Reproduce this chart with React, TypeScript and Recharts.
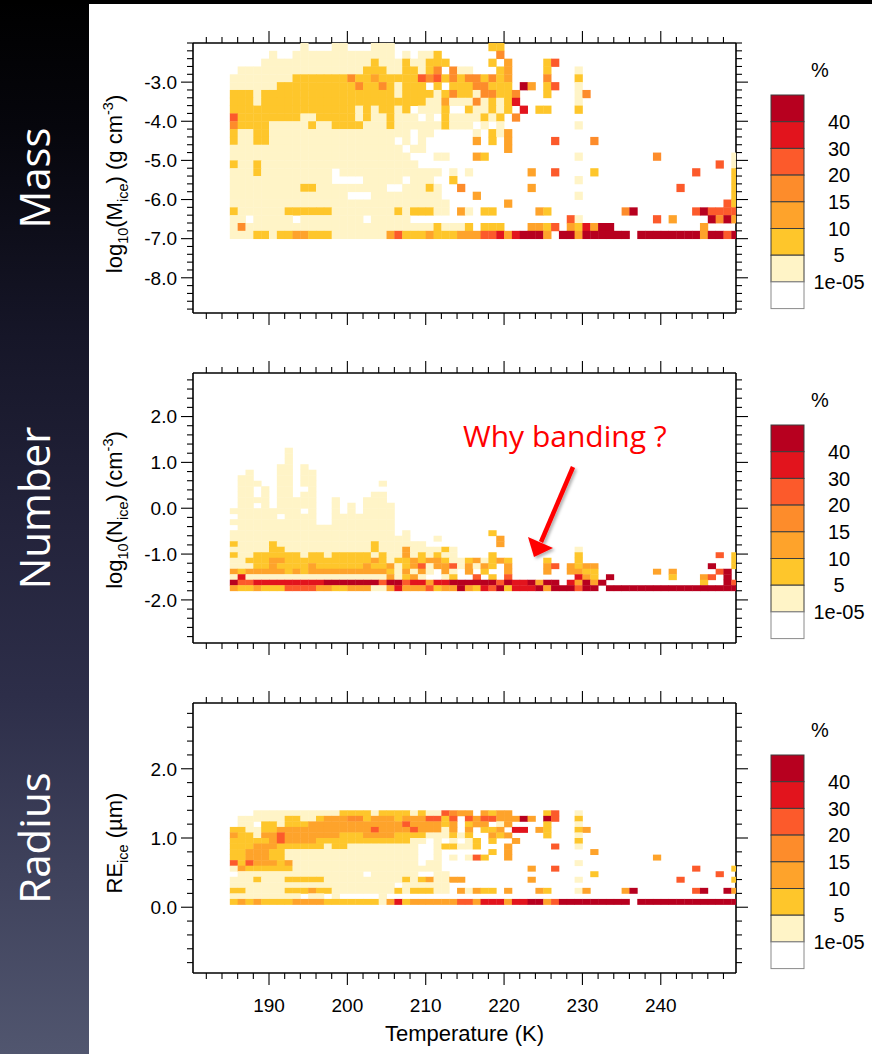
import React from 'react';
import { ScatterChart, Scatter, XAxis, YAxis } from 'recharts';

const AXIS_FONT = '"Liberation Sans", Arial, Helvetica, sans-serif';
const SLIDE_FONT = '"Open Sans", "Noto Sans", sans-serif';

// shading levels: 0 = below 1e-05 (white) ... 7 = above 40 %
const LEVEL_COLORS = ['#ffffff', '#fff4c7', '#fec62b', '#fea32b', '#fd8c2b', '#fc5a2b', '#e2141d', '#b7001f'];
const LEVEL_LABELS = ['1e-05', '5', '10', '15', '20', '30', '40'];

// temperature bins are 1 K wide, the first one starts at 185 K
const T_FIRST_BIN = 185;
const T_DOMAIN: [number, number] = [180.3, 249.6];
const T_MAJOR = [190, 200, 210, 220, 230, 240];

// each string is one row of bins (top row first), one digit per temperature bin
const MASS_ROWS = [
  '00000 00001 00011 00011 10000 00000 00022 00000 00000 00000 00000 00000 00000',
  '00000 10011 11111 11111 10101 12000 00004 00000 00000 00000 00000 00000 00000',
  '00001 11111 11111 11121 11211 22200 00020 30000 25000 00000 00000 00000 00000',
  '01111 11111 11111 11222 11221 24041 10002 30000 20001 00000 00000 00000 00000',
  '11111 11122 22222 42232 22225 45242 44242 30000 40002 00000 00000 00000 00000',
  '11111 12222 22222 24224 21222 02022 24422 20730 25001 00000 00000 00000 00000',
  '22212 22222 22222 22222 21222 21242 21442 24000 20001 40000 00000 00000 00000',
  '22212 22222 22222 22222 22222 11311 14121 26000 00001 00000 00000 00000 00000',
  '22222 22222 22222 21212 21201 11200 21121 20602 20002 00000 00000 00000 00000',
  '52222 22221 12222 21211 21110 10211 11212 04000 00000 00000 00000 00000 00000',
  '42222 11111 21122 22111 21111 11211 10101 00000 00001 00000 00000 00000 00000',
  '21122 11111 11111 11111 11101 10000 01021 30000 00000 00000 00000 00000 00000',
  '21122 11111 11111 11111 10101 00000 03020 30000 05000 04000 00000 00000 00000',
  '11111 11111 11111 11111 11011 00000 00000 30000 00000 00000 00000 00000 00000',
  '11111 11111 11111 11111 11100 01100 03200 00000 00001 00000 00004 00000 00001',
  '21121 11111 11111 11111 11110 00000 00000 00000 00000 00000 00000 00000 00501',
  '11121 11111 11101 11111 11111 11010 10000 00030 05000 02000 00000 00005 00002',
  '11111 11111 11100 00111 11011 10020 00000 00000 00001 00000 00000 00000 00002',
  '11111 11112 21111 11111 00111 21004 00000 00030 00000 00000 00000 00500 00002',
  '11111 11111 11111 00011 11111 11000 03000 00000 00001 00000 00000 00000 00002',
  '11111 11111 11111 11111 11111 11100 00000 30000 00000 00000 00000 00000 00052',
  '21111 11222 22211 11111 12122 21103 10220 00003 20000 00000 47000 00005 75555',
  '11011 11101 11111 11011 11100 00000 00000 00000 00051 00000 00005 03000 07473',
  '14111 11111 11111 11111 11111 12111 20222 00033 25032 63770 00000 00000 30000',
  '11122 12233 22211 11111 35222 32223 33556 36777 30773 77777 70777 77777 37757',
];

const NUMBER_ROWS = [
  '00000 00100 00000 00000 00000 00000 00000 00000 00000 00000 00000 00000 00000',
  '00000 00100 00000 00000 00000 00000 00000 00000 00000 00000 00000 00000 00000',
  '00000 00100 00000 00000 00000 00000 00000 00000 00000 00000 00000 00000 00000',
  '00000 01101 00000 00000 00000 00000 00000 00000 00000 00000 00000 00000 00000',
  '00100 01101 10000 00000 00000 00000 00000 00000 00000 00000 00000 00000 00000',
  '01100 01101 10000 00000 00000 00000 00000 00000 00000 00000 00000 00000 00000',
  '01110 01101 10000 00001 00000 00000 00000 00000 00000 00000 00000 00000 00000',
  '01101 01100 10000 00000 00000 00000 00000 00000 00000 00000 00000 00000 00000',
  '01101 01101 10000 00011 00000 00000 00000 00000 00000 00000 00000 00000 00000',
  '01111 01111 10010 00111 00000 00000 00000 00000 00000 00000 00000 00000 00000',
  '01101 01111 10010 10111 10000 00000 00000 00000 00000 00000 00000 00000 00000',
  '11111 11110 10010 10111 10000 00000 00000 00000 00000 00000 00000 00000 00000',
  '01111 10111 10011 11111 10000 00000 00000 00000 00000 00000 00000 00000 00000',
  '11111 11111 10011 11111 10000 00000 00000 00000 00000 00000 00000 00000 00000',
  '01111 11111 11111 11111 10000 00000 00000 00000 00000 00000 00000 00000 00000',
  '11111 11111 11111 11111 10100 00000 00020 00000 00000 00000 00000 00000 00000',
  '11111 11111 11111 11111 11100 01000 00003 00000 00000 00000 00000 00000 00000',
  '21111 21111 11111 11121 11111 00000 00003 00000 00000 00000 00000 00000 00000',
  '11111 22111 11111 11121 11311 11210 00000 00000 00001 00000 00000 00000 00000',
  '21122 22221 22122 22212 11312 12110 00020 00000 00002 00000 00000 00000 00502',
  '11222 33222 22222 22232 12232 33211 23123 20000 20002 00000 00000 00000 00002',
  '11122 32222 32222 22322 31235 13351 31320 30000 35032 33000 00000 00000 07002',
  '32333 33232 33333 33333 21313 10310 30200 30000 30033 22000 00003 03000 00570',
  '16111 11111 11111 11111 31231 00120 05020 50000 00006 32070 00000 02000 35070',
  '75566 66666 66777 77775 77566 36677 77775 76673 77063 73700 00000 00000 20075',
  '32232 22555 53322 33311 36333 52337 32657 26667 37775 77077 77777 77777 77777',
];

const RADIUS_ROWS = [
  '00011 11111 11112 22212 22212 11543 30323 30000 25001 00000 00000 00000 00000',
  '01111 11221 12333 44233 32333 55250 53553 33730 75002 00000 00000 00000 00000',
  '01102 21222 33333 33333 33533 33230 23301 30000 20001 00000 00000 00000 00000',
  '22112 23333 33333 33353 33353 33130 30223 06603 20002 30000 00000 00000 00000',
  '32213 35333 33332 22333 32222 11121 20032 30000 20001 00000 00000 00000 00000',
  '22222 35333 32222 22222 22211 01010 12020 03000 00002 00000 00000 00000 00000',
  '22233 32222 22122 11111 11110 01221 12000 30000 05001 00000 00000 00000 00000',
  '22333 22111 11111 11111 11110 01000 00020 30000 00000 03000 00000 00000 00000',
  '22333 22111 11111 11111 11110 01010 15200 30000 00000 00000 00003 00000 00000',
  '52533 32311 11111 11111 11110 11000 00000 00000 00001 00000 00000 00000 00000',
  '13222 22211 11111 11111 11111 11000 00000 00030 05000 00000 00000 00005 00002',
  '01111 11111 11111 11011 11110 01100 00000 00000 00000 02000 00000 00000 00500',
  '11121 11222 22111 11111 11212 31133 00000 00030 00001 00000 00000 00500 00002',
  '11111 11111 11111 11111 10111 11100 00000 00000 00000 00000 00000 00000 00000',
  '22111 11222 32211 11111 12122 21103 13220 30003 20001 30000 37000 00005 70073',
  '11111 11110 11010 00001 00000 00000 00000 00000 00000 00000 00000 00000 00000',
  '23232 22233 33222 22221 36233 33335 53666 36677 35777 77777 70777 77777 77777',
];

// lower edge of the bottom row and row height, in y-axis units
const MASS_ROW_BASE = -7.0;
const MASS_ROW_STEP = 0.2;
const NUMBER_ROW_BASE = -1.8;
const NUMBER_ROW_STEP = 0.12;
const RADIUS_ROW_BASE = 0.04;
const RADIUS_ROW_STEP = 0.08;

const MASS_Y_DOMAIN: [number, number] = [-8.9, -2.0];
const NUMBER_Y_DOMAIN: [number, number] = [-2.94, 2.95];
const RADIUS_Y_DOMAIN: [number, number] = [-0.95, 2.95];

const MASS_Y_MAJOR = [-8, -7, -6, -5, -4, -3];
const NUMBER_Y_MAJOR = [-2, -1, 0, 1, 2];
const RADIUS_Y_MAJOR = [0, 1, 2];

// page layout
const PAGE_W = 872;
const PAGE_H = 1054;
const SIDEBAR_W = 89;
const PLOT_LEFT = 193;
const PLOT_RIGHT = 736;
const PLOT_H = 270;
const TOP_GUTTER = 30;
const BOTTOM_GUTTER = 70;

type TitlePart = { t: string; sub?: boolean; sup?: boolean };

const PANELS = [
  {
    name: 'Mass',
    top: 43,
    rows: MASS_ROWS,
    base: MASS_ROW_BASE,
    step: MASS_ROW_STEP,
    domain: MASS_Y_DOMAIN,
    major: MASS_Y_MAJOR,
    titleY: 184,
    title: [
      { t: 'log' }, { t: '10', sub: true }, { t: '(M' }, { t: 'ice', sub: true },
      { t: ') (g cm' }, { t: '-3', sup: true }, { t: ')' },
    ] as TitlePart[],
  },
  {
    name: 'Number',
    top: 373,
    rows: NUMBER_ROWS,
    base: NUMBER_ROW_BASE,
    step: NUMBER_ROW_STEP,
    domain: NUMBER_Y_DOMAIN,
    major: NUMBER_Y_MAJOR,
    titleY: 510,
    title: [
      { t: 'log' }, { t: '10', sub: true }, { t: '(N' }, { t: 'ice', sub: true },
      { t: ') (cm' }, { t: '-3', sup: true }, { t: ')' },
    ] as TitlePart[],
  },
  {
    name: 'Radius',
    top: 703,
    rows: RADIUS_ROWS,
    base: RADIUS_ROW_BASE,
    step: RADIUS_ROW_STEP,
    domain: RADIUS_Y_DOMAIN,
    major: RADIUS_Y_MAJOR,
    titleY: 843,
    title: [{ t: 'RE' }, { t: 'ice', sub: true }, { t: ' (µm)' }] as TitlePart[],
  },
];

function steps(lo: number, hi: number, step: number) {
  const out: number[] = [];
  const first = Math.ceil(lo / step - 1e-9);
  const last = Math.floor(hi / step + 1e-9);
  for (let i = first; i <= last; i++) out.push(Math.round(i * step * 1000) / 1000);
  return out;
}

const isMajor = (majors: number[], v: number) => majors.some((m) => Math.abs(m - v) < 1e-6);

function buildCells(rows: string[], base: number, step: number) {
  const cells: { t: number; v: number; level: number }[] = [];
  rows.forEach((row, i) => {
    const k = rows.length - 1 - i;
    const bins = row.replace(/ /g, '');
    for (let j = 0; j < bins.length; j++) {
      const level = Number(bins[j]);
      if (level > 0) cells.push({ t: T_FIRST_BIN + j + 0.5, v: base + (k + 0.5) * step, level });
    }
  });
  return cells;
}

// outward tick marks on all four sides, labels only where asked
function sideTick(side: 'left' | 'right' | 'top' | 'bottom', majors: number[], format?: (v: number) => string) {
  return (props: any) => {
    const { x, y, payload } = props;
    const v = payload.value as number;
    const major = isMajor(majors, v);
    const len = major ? 12 : 6;
    let l = [x, y, x, y];
    if (side === 'left') l = [x - len, y, x, y];
    if (side === 'right') l = [x, y, x + len, y];
    if (side === 'top') l = [x, y - len, x, y];
    if (side === 'bottom') l = [x, y, x, y + len];
    return (
      <g>
        <line x1={l[0]} y1={l[1]} x2={l[2]} y2={l[3]} stroke="#000" strokeWidth={1.1} />
        {major && format && side === 'left' && (
          <text x={x - 16} y={y} dy="0.36em" textAnchor="end" fontSize={19} fontFamily={AXIS_FONT} fill="#000">
            {format(v)}
          </text>
        )}
        {major && format && side === 'bottom' && (
          <text x={x} y={y + 39} textAnchor="middle" fontSize={19} fontFamily={AXIS_FONT} fill="#000">
            {format(v)}
          </text>
        )}
      </g>
    );
  };
}

function Panel({ cfg, showX }: { cfg: (typeof PANELS)[number]; showX: boolean }) {
  const cells = buildCells(cfg.rows, cfg.base, cfg.step);
  const cw = (PLOT_RIGHT - PLOT_LEFT) / (T_DOMAIN[1] - T_DOMAIN[0]);
  const ch = (PLOT_H * cfg.step) / (cfg.domain[1] - cfg.domain[0]);
  const xTicks = steps(T_DOMAIN[0], T_DOMAIN[1], 2);
  const yTicks = steps(cfg.domain[0], cfg.domain[1], 0.2);
  const axisLine = { stroke: '#000', strokeWidth: 1.6 };

  const cellShape = (p: any) => {
    const left = p.cx - cw / 2;
    const right = Math.min(p.cx + cw / 2, PLOT_RIGHT);
    return (
      <rect
        x={left}
        y={p.cy - ch / 2}
        width={right - left + 0.4}
        height={ch + 0.4}
        fill={LEVEL_COLORS[p.payload.level]}
      />
    );
  };

  return (
    <div style={{ position: 'absolute', left: 0, top: cfg.top - TOP_GUTTER }}>
      <ScatterChart
        width={PAGE_W}
        height={TOP_GUTTER + PLOT_H + BOTTOM_GUTTER}
        margin={{ top: 0, right: 0, bottom: 0, left: 0 }}
      >
        <XAxis
          xAxisId="bottom"
          type="number"
          dataKey="t"
          domain={T_DOMAIN}
          allowDataOverflow
          ticks={xTicks}
          interval={0}
          height={BOTTOM_GUTTER}
          tickSize={0}
          tickMargin={0}
          tickLine={false}
          axisLine={axisLine}
          tick={sideTick('bottom', T_MAJOR, showX ? (v) => String(v) : undefined)}
        />
        <XAxis
          xAxisId="top"
          orientation="top"
          type="number"
          dataKey="t"
          domain={T_DOMAIN}
          allowDataOverflow
          ticks={xTicks}
          interval={0}
          height={TOP_GUTTER}
          tickSize={0}
          tickMargin={0}
          tickLine={false}
          axisLine={axisLine}
          tick={sideTick('top', T_MAJOR)}
        />
        <YAxis
          yAxisId="left"
          type="number"
          dataKey="v"
          domain={cfg.domain}
          allowDataOverflow
          ticks={yTicks}
          interval={0}
          width={PLOT_LEFT}
          tickSize={0}
          tickMargin={0}
          tickLine={false}
          axisLine={axisLine}
          tick={sideTick('left', cfg.major, (v) => v.toFixed(1))}
        />
        <YAxis
          yAxisId="right"
          orientation="right"
          type="number"
          dataKey="v"
          domain={cfg.domain}
          allowDataOverflow
          ticks={yTicks}
          interval={0}
          width={PAGE_W - PLOT_RIGHT}
          tickSize={0}
          tickMargin={0}
          tickLine={false}
          axisLine={axisLine}
          tick={sideTick('right', cfg.major)}
        />
        <Scatter
          xAxisId="bottom"
          yAxisId="left"
          data={cells}
          shape={cellShape}
          isAnimationActive={false}
        />
        <Scatter
          xAxisId="top"
          yAxisId="right"
          data={[{ t: T_DOMAIN[0], v: cfg.domain[0] }]}
          shape={() => <g />}
          isAnimationActive={false}
        />
      </ScatterChart>
    </div>
  );
}

function AxisTitle({ x, y, parts, size }: { x: number; y: number; parts: TitlePart[]; size: number }) {
  let shift = 0;
  const spans = parts.map((p, i) => {
    const target = p.sub ? 0.28 * size : p.sup ? -0.42 * size : 0;
    const dy = target - shift;
    shift = target;
    return (
      <tspan key={i} dy={dy} fontSize={p.sub || p.sup ? size * 0.66 : size}>
        {p.t}
      </tspan>
    );
  });
  return (
    <text
      transform={`translate(${x},${y}) rotate(-90)`}
      textAnchor="middle"
      fontSize={size}
      fontFamily={AXIS_FONT}
      fill="#000"
      style={{ whiteSpace: 'pre' }}
    >
      {spans}
    </text>
  );
}

function ColorBar({ top }: { top: number }) {
  const barTop = top + 52;
  const boxH = 26.7;
  const boxes = [7, 6, 5, 4, 3, 2, 1, 0];
  return (
    <g>
      <text x={820} y={top + 34} textAnchor="middle" fontSize={20} fontFamily={AXIS_FONT} fill="#000">
        %
      </text>
      {boxes.map((level, i) => (
        <rect
          key={level}
          x={771}
          y={barTop + i * boxH}
          width={33}
          height={boxH}
          fill={LEVEL_COLORS[level]}
          stroke={level === 0 ? '#8a8a8a' : '#3d3d3d'}
          strokeWidth={1}
        />
      ))}
      {LEVEL_LABELS.map((lab, i) => (
        <text
          key={lab}
          x={839}
          y={barTop + (7 - i) * boxH}
          dy="0.36em"
          textAnchor="middle"
          fontSize={20}
          fontFamily={AXIS_FONT}
          fill="#000"
        >
          {lab}
        </text>
      ))}
    </g>
  );
}

export default function App() {
  return (
    <div style={{ position: 'absolute', left: 0, top: 0, width: PAGE_W, height: PAGE_H, background: '#fff' }}>
      <svg width={PAGE_W} height={PAGE_H} style={{ position: 'absolute', left: 0, top: 0 }}>
        <defs>
          <linearGradient id="sidebar" x1="0" y1="0" x2="0" y2="1">
            <stop offset="0" stopColor="#000000" />
            <stop offset="0.12" stopColor="#06060c" />
            <stop offset="0.32" stopColor="#161628" />
            <stop offset="0.5" stopColor="#23233b" />
            <stop offset="0.66" stopColor="#2d2e49" />
            <stop offset="1" stopColor="#51566f" />
          </linearGradient>
        </defs>
        <rect x={0} y={0} width={PAGE_W} height={PAGE_H} fill="#fff" />
        <rect x={0} y={0} width={SIDEBAR_W} height={PAGE_H} fill="url(#sidebar)" />
        <rect x={0} y={0} width={PAGE_W} height={4} fill="#000" />
      </svg>

      {PANELS.map((p, i) => (
        <Panel key={p.name} cfg={p} showX={i === PANELS.length - 1} />
      ))}

      <svg
        width={PAGE_W}
        height={PAGE_H}
        style={{ position: 'absolute', left: 0, top: 0, pointerEvents: 'none' }}
      >
        <defs>
          <filter id="soft" x="-30%" y="-30%" width="160%" height="160%">
            <feDropShadow dx="2" dy="2" stdDeviation="1.6" floodColor="#000" floodOpacity="0.3" />
          </filter>
        </defs>

        {PANELS.map((p) => (
          <g key={p.name}>
            <text
              transform={`translate(50,${p.top + PLOT_H / 2}) rotate(-90)`}
              textAnchor="middle"
              fontSize={42}
              fontWeight={400}
              fontFamily={SLIDE_FONT}
              fill="#fff"
            >
              {p.name}
            </text>
            <AxisTitle x={122} y={p.titleY} parts={p.title} size={22} />
            <ColorBar top={p.top} />
          </g>
        ))}

        <text
          x={(PLOT_LEFT + PLOT_RIGHT) / 2}
          y={1041}
          textAnchor="middle"
          fontSize={22}
          fontFamily={AXIS_FONT}
          fill="#000"
        >
          Temperature (K)
        </text>

        <text x={463} y={447} fontSize={30} fontFamily={SLIDE_FONT} fill="#ff0000">
          Why banding ?
        </text>
        <g filter="url(#soft)">
          <line x1={573} y1={467} x2={541} y2={542} stroke="#ff0000" strokeWidth={4.5} />
          <polygon points="534,557 528,537 553,548" fill="#ff0000" />
        </g>
      </svg>
    </div>
  );
}
